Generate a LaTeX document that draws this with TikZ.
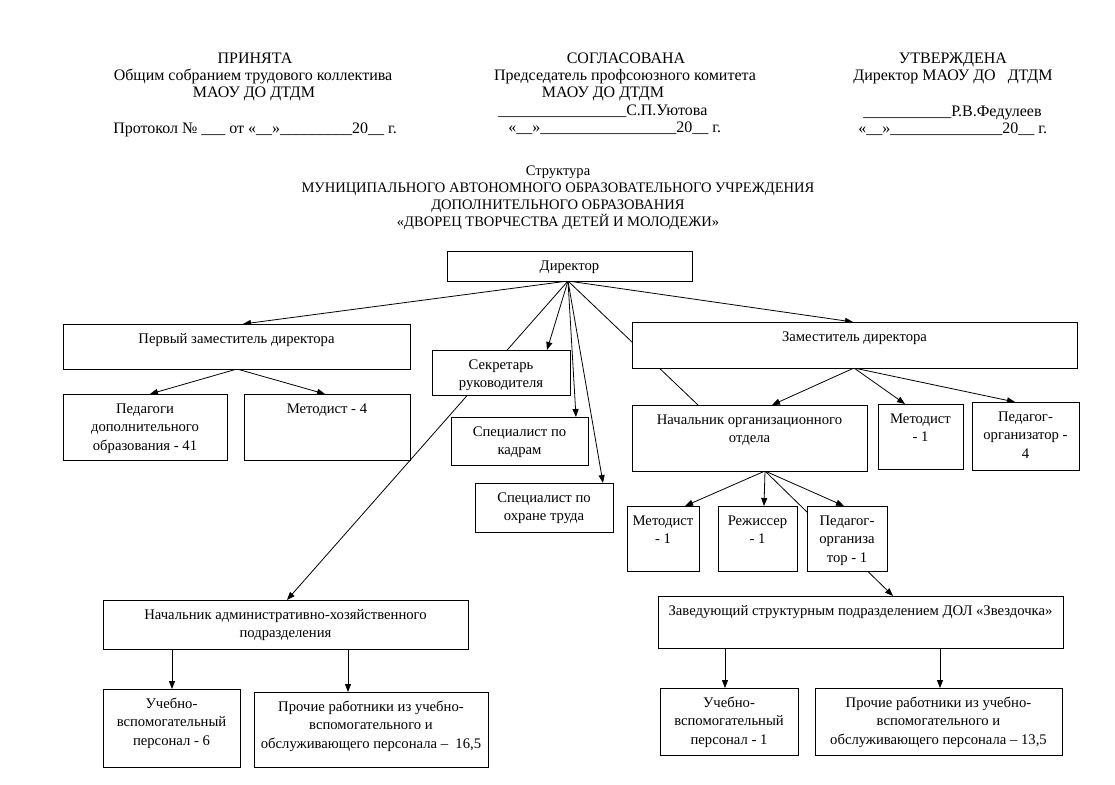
\documentclass[tikz,border=0pt]{standalone}
\usepackage{fontspec}
\setmainfont{Liberation Serif}
\usetikzlibrary{arrows.meta}
\newcommand\boxfont{\fontsize{11}{14}\selectfont}
\newcommand\headfont{\fontsize{12}{14}\selectfont}
\newcommand\titlefont{\fontsize{10.9}{13}\selectfont}
\newcommand\us[1]{\foreach \i in {1,...,#1}{\_}}
\newcommand\bx[6]{%
  \node[bxs, minimum width={(#4-#2)*0.75pt}, minimum height={(#5-#3)*0.75pt}] (#1) at ({(#2+#4)/2},{(#3+#5)/2}) {};
  \node[bxt] (#1t) at (#1.north) {\strut #6};}
\begin{document}
\begin{tikzpicture}[x=0.75pt, y=-0.75pt,
  bxs/.style={draw, line width=0.6pt, fill=white, inner sep=0pt, outer sep=0pt},
  bxt/.style={inner sep=0pt, anchor=north, align=center, font=\boxfont, yshift=-4.4pt},
  hd/.style={inner sep=0pt, anchor=base, font=\headfont},
  hdw/.style={inner sep=0pt, anchor=base west, font=\headfont},
  tt/.style={inner sep=0pt, anchor=base, font=\titlefont},
  con/.style={line width=0.6pt},
  arr/.style={line width=0.6pt, -{Triangle[length=6pt, width=4.5pt]}}]
\useasboundingbox (0,0) rectangle (1115,785);
\fill[white] (0,0) rectangle (1115,785);
% header
\node[hd] (h1a) at (255,63) {ПРИНЯТА};
\node[hd] (h1b) at (253,80) {Общим собранием трудового коллектива};
\node[hd] (h1c) at (254,97) {МАОУ ДО ДТДМ};
\node[hdw] (h1d) at (113,133) {Протокол № \us{3} от «\us{2}»\us{9}20\us{2} г.};
\node[hd] (h2a) at (626,63) {СОГЛАСОВАНА};
\node[hd] (h2b) at (625,80) {Председатель профсоюзного комитета};
\node[hd] (h2c) at (603,97) {МАОУ ДО ДТДМ};
\node[hdw] (h2d) at (498,115) {\us{16}С.П.Уютова};
\node[hdw] (h2e) at (508,132) {«\us{2}»\us{17}20\us{2} г.};
\node[hd] (h3a) at (953,63) {УТВЕРЖДЕНА};
\node[hd] (h3b) at (953,80) {Директор МАОУ ДО \ \ ДТДМ};
\node[hdw] (h3c) at (863,116) {\us{11}Р.В.Федулеев};
\node[hdw] (h3d) at (858,133) {«\us{2}»\us{14}20\us{2} г.};
% title
\node[tt] (t1) at (558,175) {Структура};
\node[tt] (t2) at (558,192) {МУНИЦИПАЛЬНОГО АВТОНОМНОГО ОБРАЗОВАТЕЛЬНОГО УЧРЕЖДЕНИЯ};
\node[tt] (t3) at (558,209) {ДОПОЛНИТЕЛЬНОГО ОБРАЗОВАНИЯ};
\node[tt] (t4) at (558,226) {«ДВОРЕЦ ТВОРЧЕСТВА ДЕТЕЙ И МОЛОДЕЖИ»};
% connector end points
\coordinate (dS) at (568,281);
\coordinate (pzT) at (243,324);
\coordinate (secT) at (547,350);
\coordinate (ahpT) at (287,600);
\coordinate (kadrT) at (576,417);
\coordinate (ohrT) at (603,483);
\coordinate (orgT) at (698,405);
\coordinate (zamT) at (853,322);
\coordinate (pzS) at (237,369);
\coordinate (pedT) at (150,394);
\coordinate (met4T) at (325,394);
\coordinate (zamS) at (854,368);
\coordinate (orgT2) at (772,405);
\coordinate (met1aT) at (905,404);
\coordinate (pedorgT) at (1015,402);
\coordinate (orgS) at (765,471);
\coordinate (met1bT) at (685,506);
\coordinate (rezT) at (764,506);
\coordinate (pedorg2T) at (844,506);
\coordinate (dolT) at (893,596);
% connectors
\draw[arr] (dS) -- (pzT);
\draw[arr] (dS) -- (secT);
\draw[arr] (dS) -- (ahpT);
\draw[arr] (dS) -- (kadrT);
\draw[arr] (dS) -- (ohrT);
\draw[con] (dS) -- (orgT);
\draw[arr] (dS) -- (zamT);
\draw[arr] (pzS) -- (pedT);
\draw[arr] (pzS) -- (met4T);
\draw[arr] (zamS) -- (orgT2);
\draw[arr] (zamS) -- (met1aT);
\draw[arr] (zamS) -- (pedorgT);
\draw[arr] (orgS) -- (met1bT);
\draw[arr] (orgS) -- (rezT);
\draw[arr] (orgS) -- (pedorg2T);
\draw[arr] (orgS) -- (dolT);
% boxes
\bx{dir}{447}{251}{692}{281}{Директор}
\bx{pz}{63}{324}{410}{369}{Первый заместитель директора}
\bx{sec}{432}{350}{570}{395}{Секретарь\\руководителя}
\bx{zam}{632}{322}{1077}{368}{Заместитель директора}
\bx{ped}{63}{394}{227}{460}{Педагоги\\дополнительного\\образования - 41}
\bx{met4}{244}{394}{410}{460}{Методист - 4}
\bx{kadr}{451}{417}{588}{465}{Специалист по\\кадрам}
\bx{ohr}{475}{483}{613}{532}{Специалист по\\охране труда}
\bx{org}{632}{405}{867}{471}{Начальник организационного\\отдела}
\bx{met1a}{878}{404}{963}{469}{Методист\\- 1}
\bx{pedorg}{972}{402}{1079}{470}{Педагог-\\организатор -\\4}
\bx{met1b}{627}{506}{699}{571}{Методист\\- 1}
\bx{rez}{718}{506}{797}{571}{Режиссер\\- 1}
\bx{pedorg2}{807}{506}{887}{571}{Педагог-\\организа\\тор - 1}
\bx{ahp}{103}{600}{468}{649}{Начальник административно-хозяйственного\\подразделения}
\bx{dol}{658}{596}{1063}{648}{Заведующий структурным подразделением ДОЛ «Звездочка»}
\bx{uv6}{103}{689}{240}{767}{Учебно-\\вспомогательный\\персонал - 6}
\bx{pr16}{254}{692}{488}{767}{Прочие работники из учебно-\\вспомогательного и\\обслуживающего персонала – \ 16,5}
\bx{uv1}{660}{688}{798}{755}{Учебно-\\вспомогательный\\персонал - 1}
\bx{pr13}{815}{688}{1062}{755}{Прочие работники из учебно-\\вспомогательного и\\обслуживающего персонала – 13,5}
% vertical arrows
\draw[arr] (ahp.south -| 172,0) -- (uv6.north -| 172,0);
\draw[arr] (ahp.south -| 348,0) -- (pr16.north -| 348,0);
\draw[arr] (dol.south -| 725,0) -- (uv1.north -| 725,0);
\draw[arr] (dol.south -| 940,0) -- (pr13.north -| 940,0);
\end{tikzpicture}
\end{document}
